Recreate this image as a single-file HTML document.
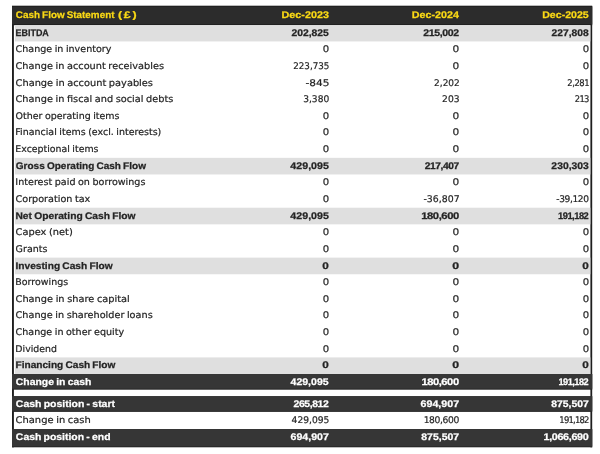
<!DOCTYPE html>
<html><head><meta charset="utf-8"><title>Cash Flow Statement</title>
<style>
html,body{margin:0;padding:0;background:#fff;}
body{width:600px;height:454px;position:relative;overflow:hidden;font-family:"DejaVu Sans","Liberation Sans",sans-serif;font-size:9.2px;color:#242424;text-rendering:geometricPrecision;}
#bg{position:absolute;left:0;top:0;display:block;}
.t{position:absolute;left:0;top:0;width:600px;height:0;white-space:nowrap;line-height:12px;word-spacing:-0.5px;-webkit-text-stroke:0.2px currentColor;}
.t span{position:absolute;display:block;}
.t i{font-style:normal;font-family:"Liberation Sans",sans-serif;display:inline-block;transform:scaleX(.85);margin:0 -1.25px 0 -1.1px;}
.t em{font-style:normal;display:inline-block;transform:scaleX(1.45);margin:0 1px 0 0.6px;}
.l{transform-origin:0 50%;}
.c{transform-origin:100% 50%;}
.t.h,.t.g,.t.d{font-weight:bold;font-family:"Liberation Sans",sans-serif;font-size:9.6px;word-spacing:-0.6px;-webkit-text-stroke:0.25px currentColor;}
.t.h i,.t.g i,.t.d i{transform:scaleX(.8);margin:0 -1.3px 0 -1.0px;}
.t.h{color:#fad915;}
.t.d{color:#fff;}
</style></head><body>
<svg id="bg" width="600" height="454" viewBox="0 0 600 454" shape-rendering="geometricPrecision"><rect x="12" y="6" width="1.9" height="441.3" fill="#1e1e1e"/><rect x="590.4" y="6" width="1.8" height="441.3" fill="#1e1e1e"/><rect x="12" y="5.70" width="580.2" height="19.50" fill="#1e1e1e"/><rect x="12" y="6.70" width="580.2" height="17.50" fill="#2c2c2c"/><rect x="14.9" y="25.20" width="575.4" height="16.23" fill="#dfdfdf"/><rect x="14.9" y="157.84" width="575.4" height="16.63" fill="#dfdfdf"/><rect x="14.9" y="207.73" width="575.4" height="16.63" fill="#dfdfdf"/><rect x="14.9" y="257.62" width="575.4" height="16.63" fill="#dfdfdf"/><rect x="14.9" y="357.40" width="575.4" height="16.63" fill="#dfdfdf"/><rect x="12" y="374.00" width="580.2" height="15.70" fill="#262626"/><rect x="12" y="374.00" width="580.2" height="14.70" fill="#363636"/><rect x="12" y="396.20" width="580.2" height="15.70" fill="#262626"/><rect x="12" y="396.20" width="580.2" height="14.70" fill="#363636"/><rect x="12" y="429.10" width="580.2" height="18.20" fill="#262626"/><rect x="12" y="429.10" width="580.2" height="17.20" fill="#363636"/></svg>
<div class="t h"><span class="l" style="left:16px;top:10.30px;transform:translateX(-0.16px) scaleX(1.0291)">Cash Flow Statement</span> <span class="l" style="left:119px;top:10.30px;letter-spacing:1.3px;transform:translateX(-1.00px) scaleX(1.2922)">(£)</span><span class="c" style="right:271px;top:10.30px;transform:translateX(-0.24px) scaleX(1.1251)">Dec-2023</span><span class="c" style="right:141px;top:10.30px;transform:translateX(-0.28px) scaleX(1.1169)">Dec-2024</span><span class="c" style="right:11px;top:10.30px;transform:translateX(-0.37px) scaleX(1.1050)">Dec-2025</span></div>
<div class="t g"><span class="l" style="left:16px;top:27.70px;transform:translateX(-0.49px) scaleX(0.9331)">EBITDA</span><span class="c" style="right:271px;top:27.70px;transform:translateX(0.19px) scaleX(1.0808)">202,825</span><span class="c" style="right:141px;top:27.70px;letter-spacing:-0.37px;transform:translateX(-0.48px) scaleX(1.0987)">215,002</span><span class="c" style="right:11px;top:27.70px;transform:translateX(0.06px) scaleX(1.0710)">227,808</span></div>
<div class="t n"><span class="l" style="left:16px;top:44.33px;transform:translateX(-0.46px) scaleX(1.0407)">Change in inventory</span><span class="c" style="right:271px;top:44.33px;transform:translateX(0.24px) scaleX(1.0973)">0</span><span class="c" style="right:141px;top:44.33px;transform:translateX(0.48px) scaleX(1.1502)">0</span><span class="c" style="right:11px;top:44.33px;transform:translateX(0.24px) scaleX(1.0973)">0</span></div>
<div class="t n"><span class="l" style="left:16px;top:60.96px;transform:translateX(-0.45px) scaleX(1.0617)">Change in account receivables</span><span class="c" style="right:271px;top:60.96px;transform:translateX(0.36px) scaleX(0.9519)">223,735</span><span class="c" style="right:141px;top:60.96px;transform:translateX(0.48px) scaleX(1.1502)">0</span><span class="c" style="right:11px;top:60.96px;transform:translateX(0.24px) scaleX(1.0973)">0</span></div>
<div class="t n"><span class="l" style="left:16px;top:77.59px;transform:translateX(-0.42px) scaleX(1.0670)">Change in account payables</span><span class="c" style="right:271px;top:77.59px;transform:translateX(0.56px) scaleX(1.1504)">-845</span><span class="c" style="right:141px;top:77.59px;transform:translateX(0.47px) scaleX(0.9756)">2,202</span><span class="c" style="right:11px;top:77.59px;letter-spacing:-0.52px;transform:translateX(0.33px) scaleX(0.9166)">2,281</span></div>
<div class="t n"><span class="l" style="left:16px;top:94.22px;transform:translateX(-0.46px) scaleX(1.0615)">Change in fiscal and social debts</span><span class="c" style="right:271px;top:94.22px;transform:translateX(-0.11px) scaleX(0.9884)">3,380</span><span class="c" style="right:141px;top:94.22px;transform:translateX(1.01px) scaleX(0.9950)">203</span><span class="c" style="right:11px;top:94.22px;letter-spacing:-0.85px;transform:translateX(-0.51px) scaleX(0.9101)">213</span></div>
<div class="t n"><span class="l" style="left:16px;top:110.85px;transform:translateX(-0.42px) scaleX(1.0308)">Other operating items</span><span class="c" style="right:271px;top:110.85px;transform:translateX(0.24px) scaleX(1.0973)">0</span><span class="c" style="right:141px;top:110.85px;transform:translateX(0.48px) scaleX(1.1502)">0</span><span class="c" style="right:11px;top:110.85px;transform:translateX(0.24px) scaleX(1.0973)">0</span></div>
<div class="t n"><span class="l" style="left:16px;top:127.48px;transform:translateX(-0.67px) scaleX(1.0311)">Financial items (excl. interests)</span><span class="c" style="right:271px;top:127.48px;transform:translateX(0.24px) scaleX(1.0973)">0</span><span class="c" style="right:141px;top:127.48px;transform:translateX(0.48px) scaleX(1.1502)">0</span><span class="c" style="right:11px;top:127.48px;transform:translateX(0.24px) scaleX(1.0973)">0</span></div>
<div class="t n"><span class="l" style="left:16px;top:144.11px;transform:translateX(-0.67px) scaleX(1.0216)">Exceptional items</span><span class="c" style="right:271px;top:144.11px;transform:translateX(0.24px) scaleX(1.0973)">0</span><span class="c" style="right:141px;top:144.11px;transform:translateX(0.48px) scaleX(1.1502)">0</span><span class="c" style="right:11px;top:144.11px;transform:translateX(0.24px) scaleX(1.0973)">0</span></div>
<div class="t g"><span class="l" style="left:16px;top:160.74px;transform:translateX(-0.21px) scaleX(1.0452)">Gross Operating Cash Flow</span><span class="c" style="right:271px;top:160.74px;transform:translateX(0.21px) scaleX(1.1116)">429,095</span><span class="c" style="right:141px;top:160.74px;letter-spacing:-0.37px;transform:translateX(-0.24px) scaleX(1.0604)">217,407</span><span class="c" style="right:11px;top:160.74px;transform:translateX(0.15px) scaleX(1.0802)">230,303</span></div>
<div class="t n"><span class="l" style="left:16px;top:177.37px;transform:translateX(-0.67px) scaleX(1.0430)">Interest paid on borrowings</span><span class="c" style="right:271px;top:177.37px;transform:translateX(0.24px) scaleX(1.0973)">0</span><span class="c" style="right:141px;top:177.37px;transform:translateX(0.48px) scaleX(1.1502)">0</span><span class="c" style="right:11px;top:177.37px;transform:translateX(0.24px) scaleX(1.0973)">0</span></div>
<div class="t n"><span class="l" style="left:16px;top:194.00px;transform:translateX(-0.46px) scaleX(1.0476)">Corporation tax</span><span class="c" style="right:271px;top:194.00px;transform:translateX(0.24px) scaleX(1.0973)">0</span><span class="c" style="right:141px;top:194.00px;transform:translateX(0.11px) scaleX(1.0172)">-36,807</span><span class="c" style="right:11px;top:194.00px;letter-spacing:-0.37px;transform:translateX(-0.20px) scaleX(0.9861)">-39,120</span></div>
<div class="t g"><span class="l" style="left:16px;top:210.63px;transform:translateX(-0.56px) scaleX(1.0701)">Net Operating Cash Flow</span><span class="c" style="right:271px;top:210.63px;transform:translateX(0.21px) scaleX(1.1116)">429,095</span><span class="c" style="right:141px;top:210.63px;letter-spacing:-0.37px;transform:translateX(-0.27px) scaleX(1.1731)">180,600</span><span class="c" style="right:11px;top:210.63px;letter-spacing:-0.50px;transform:translateX(-0.88px) scaleX(0.9727)">191,182</span></div>
<div class="t n"><span class="l" style="left:16px;top:227.26px;transform:translateX(-0.45px) scaleX(1.0695)">Capex (net)</span><span class="c" style="right:271px;top:227.26px;transform:translateX(0.24px) scaleX(1.0973)">0</span><span class="c" style="right:141px;top:227.26px;transform:translateX(0.48px) scaleX(1.1502)">0</span><span class="c" style="right:11px;top:227.26px;transform:translateX(0.24px) scaleX(1.0973)">0</span></div>
<div class="t n"><span class="l" style="left:16px;top:243.89px;transform:translateX(-0.39px) scaleX(1.0340)">Grants</span><span class="c" style="right:271px;top:243.89px;transform:translateX(0.24px) scaleX(1.0973)">0</span><span class="c" style="right:141px;top:243.89px;transform:translateX(0.48px) scaleX(1.1502)">0</span><span class="c" style="right:11px;top:243.89px;transform:translateX(0.24px) scaleX(1.0973)">0</span></div>
<div class="t g"><span class="l" style="left:16px;top:260.52px;transform:translateX(-0.55px) scaleX(1.0612)">Investing Cash Flow</span><span class="c" style="right:271px;top:260.52px;transform:translateX(-0.49px) scaleX(1.2243)">0</span><span class="c" style="right:141px;top:260.52px;transform:translateX(-0.13px) scaleX(1.2859)">0</span><span class="c" style="right:11px;top:260.52px;transform:translateX(-0.49px) scaleX(1.2243)">0</span></div>
<div class="t n"><span class="l" style="left:16px;top:277.15px;transform:translateX(-0.67px) scaleX(1.0289)">Borrowings</span><span class="c" style="right:271px;top:277.15px;transform:translateX(0.24px) scaleX(1.0973)">0</span><span class="c" style="right:141px;top:277.15px;transform:translateX(0.48px) scaleX(1.1502)">0</span><span class="c" style="right:11px;top:277.15px;transform:translateX(0.24px) scaleX(1.0973)">0</span></div>
<div class="t n"><span class="l" style="left:16px;top:293.78px;transform:translateX(-0.42px) scaleX(1.0658)">Change in share capital</span><span class="c" style="right:271px;top:293.78px;transform:translateX(0.24px) scaleX(1.0973)">0</span><span class="c" style="right:141px;top:293.78px;transform:translateX(0.48px) scaleX(1.1502)">0</span><span class="c" style="right:11px;top:293.78px;transform:translateX(0.24px) scaleX(1.0973)">0</span></div>
<div class="t n"><span class="l" style="left:16px;top:310.41px;transform:translateX(-0.43px) scaleX(1.0551)">Change in shareholder loans</span><span class="c" style="right:271px;top:310.41px;transform:translateX(0.24px) scaleX(1.0973)">0</span><span class="c" style="right:141px;top:310.41px;transform:translateX(0.48px) scaleX(1.1502)">0</span><span class="c" style="right:11px;top:310.41px;transform:translateX(0.24px) scaleX(1.0973)">0</span></div>
<div class="t n"><span class="l" style="left:16px;top:327.04px;transform:translateX(-0.44px) scaleX(1.0418)">Change in other equity</span><span class="c" style="right:271px;top:327.04px;transform:translateX(0.24px) scaleX(1.0973)">0</span><span class="c" style="right:141px;top:327.04px;transform:translateX(0.48px) scaleX(1.1502)">0</span><span class="c" style="right:11px;top:327.04px;transform:translateX(0.24px) scaleX(1.0973)">0</span></div>
<div class="t n"><span class="l" style="left:16px;top:343.67px;transform:translateX(-0.67px) scaleX(1.0181)">Dividend</span><span class="c" style="right:271px;top:343.67px;transform:translateX(0.24px) scaleX(1.0973)">0</span><span class="c" style="right:141px;top:343.67px;transform:translateX(0.48px) scaleX(1.1502)">0</span><span class="c" style="right:11px;top:343.67px;transform:translateX(0.24px) scaleX(1.0973)">0</span></div>
<div class="t g"><span class="l" style="left:16px;top:360.30px;transform:translateX(-0.55px) scaleX(1.0553)">Financing Cash Flow</span><span class="c" style="right:271px;top:360.30px;transform:translateX(-0.49px) scaleX(1.2243)">0</span><span class="c" style="right:141px;top:360.30px;transform:translateX(-0.13px) scaleX(1.2859)">0</span><span class="c" style="right:11px;top:360.30px;transform:translateX(-0.49px) scaleX(1.2243)">0</span></div>
<div class="t d"><span class="l" style="left:16px;top:376.70px;transform:translateX(-0.14px) scaleX(1.0839)">Change in cash</span><span class="c" style="right:271px;top:376.70px;transform:translateX(-0.04px) scaleX(1.0987)">429,095</span><span class="c" style="right:141px;top:376.70px;letter-spacing:-0.37px;transform:translateX(-0.44px) scaleX(1.1605)">180,600</span><span class="c" style="right:11px;top:376.70px;letter-spacing:-0.50px;transform:translateX(-0.97px) scaleX(0.9540)">191,182</span></div>
<div class="t d"><span class="l" style="left:16px;top:399.00px;transform:translateX(-0.14px) scaleX(1.0899)">Cash position - start</span><span class="c" style="right:271px;top:399.00px;letter-spacing:-0.37px;transform:translateX(-0.77px) scaleX(1.0848)">265,812</span><span class="c" style="right:141px;top:399.00px;transform:translateX(0.40px) scaleX(1.1117)">694,907</span><span class="c" style="right:11px;top:399.00px;transform:translateX(0.10px) scaleX(1.0810)">875,507</span></div>
<div class="t n"><span class="l" style="left:16px;top:415.40px;transform:translateX(-0.43px) scaleX(1.0798)">Change in cash</span><span class="c" style="right:271px;top:415.40px;transform:translateX(0.34px) scaleX(0.9936)">429,095</span><span class="c" style="right:141px;top:415.40px;letter-spacing:-0.37px;transform:translateX(-0.46px) scaleX(0.9970)">180,600</span><span class="c" style="right:11px;top:415.40px;letter-spacing:-0.85px;transform:translateX(-0.36px) scaleX(0.9165)">191,182</span></div>
<div class="t d"><span class="l" style="left:16px;top:431.90px;transform:translateX(-0.14px) scaleX(1.0853)">Cash position - end</span><span class="c" style="right:271px;top:431.90px;transform:translateX(0.11px) scaleX(1.1031)">694,907</span><span class="c" style="right:141px;top:431.90px;transform:translateX(0.43px) scaleX(1.0903)">875,507</span><span class="c" style="right:11px;top:431.90px;letter-spacing:-0.29px;transform:translateX(-0.67px) scaleX(1.1209)">1,066,690</span></div>
</body></html>
